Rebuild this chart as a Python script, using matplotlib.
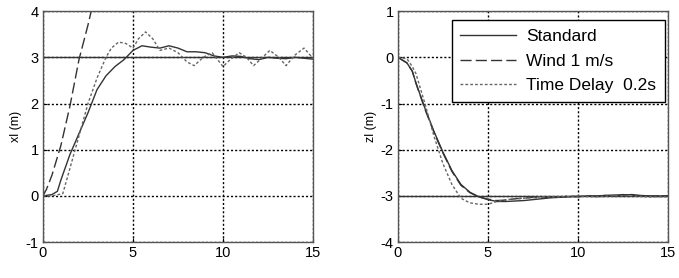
import numpy as np
import matplotlib.pyplot as plt

plt.rcParams['font.family'] = ['Liberation Sans', 'DejaVu Sans']
plt.rcParams['axes.unicode_minus'] = False

# time axis (s)
t_std = [0, 0.5, 0.8, 1.0, 1.5, 2.0, 2.5, 3.0, 3.5, 4.0, 4.5, 5.0, 5.5, 6.0, 6.5, 7.0,
         7.5, 8.0, 8.5, 9.0, 9.5, 10.0, 10.5, 11.0, 11.5, 12.0, 12.5, 13.0, 13.5, 14.0, 14.5, 15.0]
xl_std = [0, 0.03, 0.1, 0.35, 0.9, 1.35, 1.8, 2.3, 2.6, 2.8, 2.95, 3.15, 3.25, 3.22, 3.2, 3.25,
          3.2, 3.12, 3.12, 3.1, 3.03, 3.0, 3.03, 3.02, 2.97, 2.95, 3.0, 2.98, 2.97, 3.0, 2.98, 2.96]

t_wind = [0, 0.2, 0.5, 1.0, 1.5, 2.0, 2.5, 2.8]
xl_wind = [0, 0.15, 0.45, 1.1, 1.95, 2.95, 3.7, 4.2]

t_del = [0, 0.5, 1.1, 1.5, 2.0, 2.5, 3.0, 3.5, 3.8, 4.2, 4.6, 5.0, 5.3, 5.7, 6.1, 6.5, 7.0,
         7.5, 8.0, 8.4, 8.9, 9.4, 10.0, 10.4, 10.9, 11.3, 11.7, 12.2, 12.6, 13.1, 13.5, 14.0, 14.5, 15.0]
xl_del = [0, 0.0, 0.05, 0.6, 1.3, 2.0, 2.55, 3.0, 3.2, 3.33, 3.3, 3.2, 3.4, 3.55, 3.4, 3.15, 3.2,
          3.1, 2.9, 2.82, 3.0, 3.1, 2.8, 2.95, 3.1, 3.0, 2.82, 3.0, 3.15, 3.0, 2.82, 3.05, 3.2, 2.98]

zl_std = [0, -0.12, -0.3, -0.55, -1.1, -1.6, -2.05, -2.45, -2.75, -2.92, -3.02, -3.08, -3.12, -3.12, -3.11, -3.1,
          -3.08, -3.06, -3.04, -3.03, -3.02, -3.01, -3.0, -3.0, -2.99, -2.98, -2.98, -2.97, -2.99, -3.0, -3.0, -3.0]
zl_wind = [0, -0.12, -0.3, -0.56, -1.12, -1.62, -2.07, -2.47, -2.77, -2.93, -3.02, -3.07, -3.1, -3.09, -3.06, -3.05,
           -3.03, -3.05, -3.02, -3.03, -3.0, -3.02, -3.0, -3.01, -2.99, -3.0, -2.97, -2.99, -3.0, -3.01, -3.0, -3.0]
t_zdel = [0, 0.5, 0.8, 1.0, 1.5, 2.0, 2.5, 3.0, 3.5, 4.0, 4.5, 5.0, 5.5, 6.0, 7.0, 8.0, 9.0, 10.0, 11.0, 12.0, 13.0, 14.0, 15.0]
zl_del = [0, -0.03, -0.2, -0.35, -1.0, -1.7, -2.3, -2.75, -3.05, -3.15, -3.18, -3.18, -3.12, -3.08, -3.05, -3.02, -3.02,
          -3.0, -3.02, -3.0, -3.0, -3.02, -3.02]

x_ref = 3
z_ref = -3

fig = plt.figure(figsize=(6.79, 2.78), dpi=100)
ax1 = fig.add_axes([0.0633, 0.129, 0.3977, 0.831])
ax2 = fig.add_axes([0.586, 0.129, 0.3977, 0.831])

def style(ax, ylim, yticks, ylabel):
    ax.set_xlim(0, 15)
    ax.set_ylim(*ylim)
    ax.set_xticks([0, 5, 10, 15])
    ax.set_yticks(yticks)
    ax.grid(True, color='black', linestyle=(0, (1.5, 1.5)), linewidth=1.0)
    ax.tick_params(direction='in', length=3, labelsize=10.5, pad=3)
    ax.set_ylabel(ylabel, fontsize=9, labelpad=3)
    for s in ax.spines.values():
        s.set_color('#555555')
        s.set_linewidth(1.0)

ax1.axhline(x_ref, color='#333333', linewidth=1.0)
ax1.plot(t_std, xl_std, color='#333333', linewidth=1.0)
ax1.plot(t_wind, xl_wind, color='#333333', linewidth=1.0, linestyle=(0, (8, 3)))
ax1.plot(t_del, xl_del, color='#666666', linewidth=1.0, linestyle=(0, (2, 1.5)))
style(ax1, (-1, 4), [-1, 0, 1, 2, 3, 4], 'xl (m)')

ax2.axhline(z_ref, color='#333333', linewidth=1.0)
l1, = ax2.plot(t_std, zl_std, color='#333333', linewidth=1.0)
l2, = ax2.plot(t_std, zl_wind, color='#333333', linewidth=1.0, linestyle=(0, (8, 3)))
l3, = ax2.plot(t_zdel, zl_del, color='#666666', linewidth=1.0, linestyle=(0, (2, 1.5)))
style(ax2, (-4, 1), [-4, -3, -2, -1, 0, 1], 'zl (m)')

leg = ax2.legend([l1, l2, l3], ['Standard', 'Wind 1 m/s', 'Time Delay  0.2s'],
                 loc='upper right', bbox_to_anchor=(0.989, 0.961), borderaxespad=0,
                 fontsize=12.5, fancybox=False, framealpha=1, edgecolor='black',
                 handlelength=3.2, handletextpad=0.6, borderpad=0.5, labelspacing=0.55)
leg.get_frame().set_linewidth(1.0)

fig.savefig('out.png', dpi=100)
